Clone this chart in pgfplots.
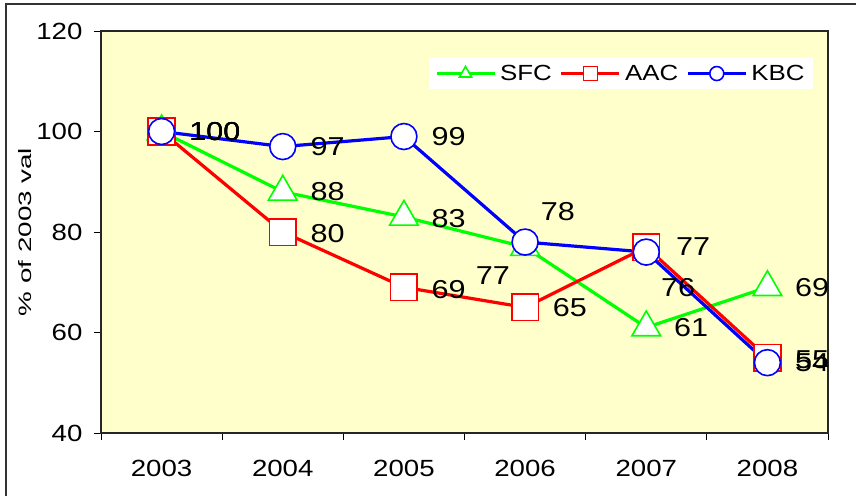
\documentclass[border=0pt]{standalone}
\usepackage{fontspec}
\setmainfont[FakeStretch=1.18]{Liberation Sans}
\newfontfamily\ylfont[FakeStretch=1.55]{Liberation Sans}
\usepackage{pgfplots}
\pgfplotsset{compat=1.18}
\usepackage{pgfplotstable}
\definecolor{bgy}{RGB}{255,255,204}
\definecolor{cg}{RGB}{0,255,0}
\definecolor{cr}{RGB}{255,0,0}
\definecolor{cb}{RGB}{0,0,255}

\pgfplotstableread{
x y dx dy
0 100 27 0
1 88 27 0
2 83 27 -2
3 77 -50 -29
4 61 27 0
5 69 27 0
}\sfc
\pgfplotstableread{
x y dx dy
0 100 27 0
1 80 27 -2
2 69 27 -2
3 65 27 0
4 77 29 0
5 55 27 -2
}\aac
\pgfplotstableread{
x y dx dy
0 100 27 0
1 97 27 0
2 99 27 0
3 78 15 30
4 76 14 -35
5 54 27 0
}\kbc

\begin{document}
\begin{tikzpicture}
\begin{axis}[
  scale only axis,
  width=727bp, height=402bp,
  xmin=-0.5, xmax=5.5,
  ymin=40, ymax=120,
  axis background/.style={fill=bgy},
  axis line style={line width=1.2bp, black!85},
  xtick={0,...,5},
  xticklabels={2003,2004,2005,2006,2007,2008},
  major x tick style={draw=none},
  minor xtick={-0.5,0.5,...,5.5},
  minor tick length=7bp,
  major tick length=7bp,
  tick align=outside,
  xtick pos=bottom, ytick pos=left,
  ytick={40,60,...,120},
  tick style={line width=1bp, black},
  /pgf/number format/assume math mode=true,
  tick label style={font=\fontsize{23.5}{26}\selectfont},
  xticklabel style={yshift=-17bp},
  yticklabel style={xshift=-8bp},
  ylabel={\% of 2003 val},
  every axis y label/.style={at={(axis description cs:-0.1045,0.5)}, rotate=90, anchor=center, font=\ylfont\fontsize{18}{20}\selectfont},
  legend style={at={(axis description cs:0.979,0.933)}, anchor=north east, draw=none, fill=white,
    font=\fontsize{22}{24}\selectfont, inner xsep=6bp, inner ysep=5bp,
    /tikz/every even column/.append style={column sep=6bp},
    /tikz/every odd column/.append style={column sep=2bp}},
  legend columns=3,
  legend image code/.code={\draw[mark repeat=2,mark phase=2] plot coordinates {(0bp,0bp) (29bp,0bp) (58bp,0bp)};},
  legend image post style={mark size=7bp},
  visualization depends on={\thisrow{dx}\as\labdx},
  visualization depends on={\thisrow{dy}\as\labdy},
  nodes near coords={\pgfmathprintnumber[fixed,precision=0]{\pgfplotspointmeta}},
  nodes near coords style={anchor=west, inner sep=0pt, xshift=\labdx bp, yshift=\labdy bp, text=black, font=\fontsize{26}{28}\selectfont},
]
\addplot[cg, line width=3.2bp, mark=triangle*, mark size=16.5bp, mark options={fill=white, draw=cg, line width=1.6bp, solid}] table[x=x,y=y] {\sfc};
\addlegendentry{SFC}
\addplot[cr, line width=3.2bp, mark=square*, mark size=13.3bp, mark options={fill=white, draw=cr, line width=1.6bp, solid}] table[x=x,y=y] {\aac};
\addlegendentry{AAC}
\addplot[cb, line width=3.2bp, mark=*, mark size=13bp, mark options={fill=white, draw=cb, line width=1.6bp, solid}] table[x=x,y=y] {\kbc};
\addlegendentry{KBC}
\end{axis}
\pgfresetboundingbox
\path[use as bounding box] ([xshift=-101bp,yshift=-62bp]current axis.south west) rectangle ([xshift=28bp,yshift=31bp]current axis.north east);
\draw[line width=1.2bp, black!80] ([xshift=-95bp,yshift=-70bp]current axis.south west) -- ([xshift=-95bp,yshift=27bp]current axis.north west) -- ([xshift=40bp,yshift=27bp]current axis.north east);
\end{tikzpicture}
\end{document}
